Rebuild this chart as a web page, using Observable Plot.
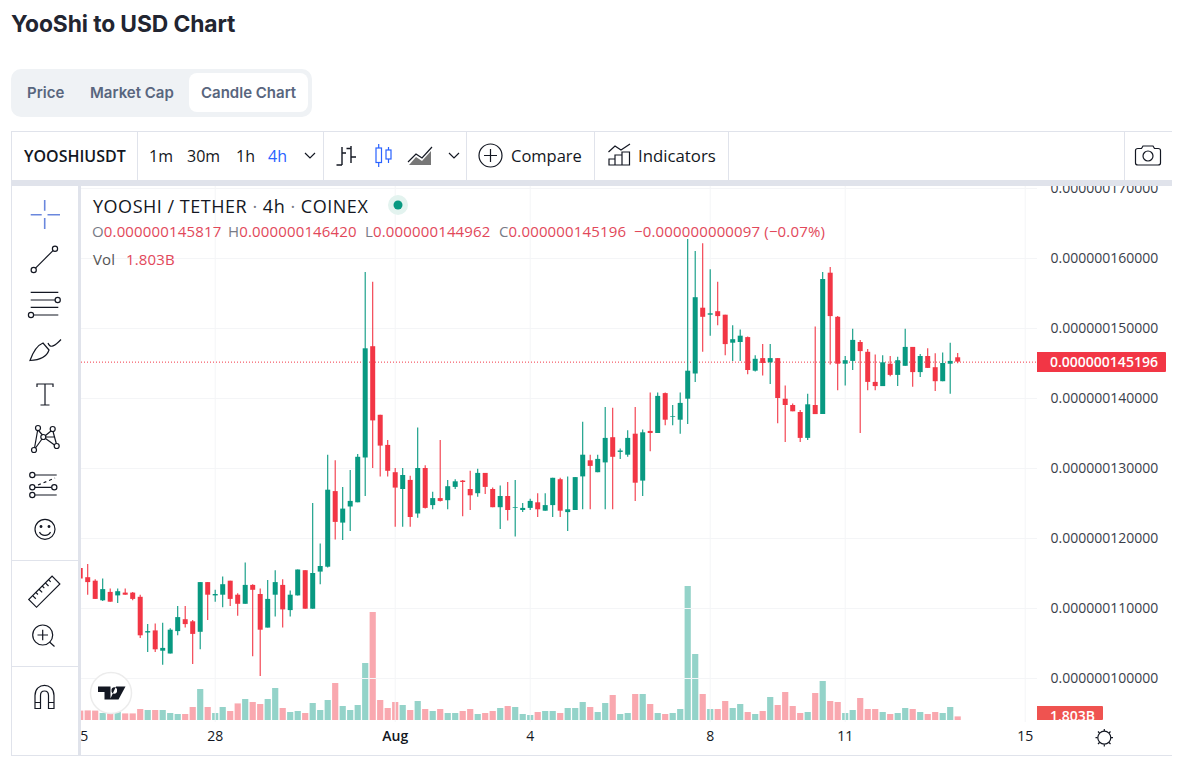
<!DOCTYPE html>
<html><head><meta charset="utf-8">
<script src="https://cdn.jsdelivr.net/npm/d3@7"></script>
<script src="https://cdn.jsdelivr.net/npm/@observablehq/plot@0.6"></script>
<style>
html,body{margin:0;padding:0;background:#fff;width:1195px;height:760px;overflow:hidden;font-family:"Open Sans",sans-serif;color:#131722}
.a{position:absolute;white-space:nowrap}
h1{position:absolute;left:11px;top:9px;margin:0;font:700 22.8px/30px Inter,sans-serif;color:#222531;letter-spacing:-.1px}
.tabs{position:absolute;left:11px;top:69px;width:301px;height:48px;background:#eff2f5;border-radius:10px}
.pill{position:absolute;left:178px;top:4px;width:119px;height:39px;background:#fff;border-radius:8px}
.tab{position:absolute;top:14px;font:600 15px/20px Inter,sans-serif;color:#58667e}
.tb{font-size:16px;line-height:22px;color:#131722}
.sep{position:absolute;background:#e0e3eb}
.legend{font-size:15px;line-height:20px;letter-spacing:.15px}
.lab{color:#787b86}.val{color:#e2485a}
svg.plot{position:absolute;left:81px;top:186px;overflow:hidden}
svg.ic{position:absolute;left:0;top:0;z-index:5;pointer-events:none}
</style></head><body>
<h1>YooShi to USD Chart</h1>
<div class="tabs"><div class="pill"></div>
<div class="tab" style="left:16px">Price</div><div class="tab" style="left:79px">Market Cap</div><div class="tab" style="left:190px">Candle Chart</div></div>

<div class="sep" style="left:11px;top:131px;width:1161px;height:1px"></div>
<div class="sep" style="left:11px;top:131px;width:1px;height:625px"></div>
<div class="sep" style="left:12px;top:180px;width:1160px;height:6px"></div>
<div class="sep" style="left:78px;top:186px;width:3px;height:570px"></div>
<div class="sep" style="left:11px;top:755px;width:1161px;height:1px"></div>
<div class="sep" style="left:12px;top:560px;width:66px;height:1px"></div>
<div class="sep" style="left:12px;top:666px;width:66px;height:1px"></div>
<div class="sep" style="left:137px;top:132px;width:1px;height:48px"></div>
<div class="sep" style="left:323px;top:132px;width:1px;height:48px"></div>
<div class="sep" style="left:466px;top:132px;width:1px;height:48px"></div>
<div class="sep" style="left:594px;top:132px;width:1px;height:48px"></div>
<div class="sep" style="left:728px;top:132px;width:1px;height:48px"></div>
<div class="sep" style="left:1124px;top:132px;width:1px;height:48px"></div>

<div class="a tb" style="left:24px;top:145px;font-weight:600">YOOSHIUSDT</div>
<div class="a tb" style="left:149px;top:145px">1m</div>
<div class="a tb" style="left:187px;top:145px">30m</div>
<div class="a tb" style="left:236px;top:145px">1h</div>
<div class="a tb" style="left:268px;top:145px;color:#2962ff;font-weight:500">4h</div>
<div class="a tb" style="left:511px;top:145px;font-size:16.5px">Compare</div>
<div class="a tb" style="left:638px;top:145px;font-size:16.8px">Indicators</div>

<div id="charts"></div>

<div class="a" style="left:93px;top:193px;font-size:18px;line-height:26px;z-index:3;letter-spacing:.52px">YOOSHI / TETHER <span style="color:#787b86">·</span> 4h <span style="color:#787b86">·</span> COINEX</div>
<div class="a legend" style="left:92px;top:220.500px;z-index:3"><span class="lab">O</span><span class="val">0.000000145817</span></div>
<div class="a legend" style="left:228px;top:220.500px;z-index:3"><span class="lab">H</span><span class="val">0.000000146420</span></div>
<div class="a legend" style="left:365px;top:220.500px;z-index:3"><span class="lab">L</span><span class="val">0.000000144962</span></div>
<div class="a legend" style="left:499px;top:220.500px;z-index:3"><span class="lab">C</span><span class="val">0.000000145196</span></div>
<div class="a legend val" style="left:634px;top:220.500px;z-index:3">−0.000000000097 (−0.07%)</div>
<div class="a legend" style="left:93px;top:249px;z-index:3;color:#555">Vol</div>
<div class="a legend val" style="left:126px;top:249px;z-index:3">1.803B</div>

<div id="tags"></div>

<svg class="ic" width="1195" height="760" fill="none" stroke="#131722" stroke-width="1.2">
<!-- left tools -->
<g stroke="#6a87dd" stroke-width="1.6"><path d="M30.7 214.7H41.7M47.5 214.7H60M44.7 200V210.7M44.7 218V229"/></g>
<path d="M35.5 268.2L53 250.6"/><circle cx="55" cy="248.7" r="2.6"/><circle cx="33.7" cy="270" r="2.6"/>
<path d="M30.7 292.3H58.3M30.7 300H55M30.7 307.3H58.3M34 315H58.3"/><circle cx="57.7" cy="300" r="2.6"/><circle cx="31" cy="315" r="2.6"/>
<path d="M30 360.5C33 352 38 345 43 343L49 350C47 356 40 360 30 360.5ZM48 343C50 349 55 346 61 339.5"/>
<path d="M37 387V384H53V387M45 384V405M40.5 405H49.5"/>
<g><circle cx="38" cy="428" r="2.5"/><circle cx="52.7" cy="429" r="2.5"/><circle cx="43.3" cy="437" r="2.5"/><circle cx="34" cy="450" r="2.5"/><circle cx="56.7" cy="446" r="2.5"/><path d="M38.5 430.5L42.5 435M45.5 435.5L51 431M34.6 447.5L37.6 430.5M35.5 448L42 439M45.5 438.5L54.5 445M53 431.5L56.3 443.5M45.5 437H54"/></g>
<path d="M35 475H56.7M35 487.3H51.6M35 495H56.7"/><circle cx="32.3" cy="475" r="2.6"/><circle cx="32.3" cy="487.3" r="2.6"/><circle cx="54.3" cy="487.3" r="2.6"/><circle cx="32.3" cy="495" r="2.6"/><path d="M38 485L55 478" stroke-dasharray="3 3"/>
<circle cx="45" cy="529.3" r="10"/><circle cx="41" cy="526.5" r=".9" fill="#131722"/><circle cx="49" cy="526.5" r=".9" fill="#131722"/><path d="M39.5 532C41.5 536.5 48.5 536.5 50.5 532"/>
<g transform="translate(44.3 591.7) rotate(-45)"><rect x="-16.5" y="-5.5" width="33" height="11"/><path d="M-11 -5.5V-1M-6.5 -5.5V-2.5M-2 -5.5V-1M2.5 -5.5V-2.5M7 -5.5V-1M11.5 -5.5V-2.5"/></g>
<circle cx="42.7" cy="635" r="10"/><path d="M37.5 635H48M42.7 629.7V640.3M49.5 642L54.5 646.5"/>
<path d="M35 708.5V695.5C35 682 54 682 54 695.5V708.5H48.5V695.5C48.5 689.5 40.5 689.5 40.5 695.5V708.5ZM35 702.5H40.5M48.5 702.5H54"/>
<!-- top toolbar -->
<path d="M342 147V165M336.5 165H342M342 153H346M351 146V163M346.5 148.5H351M351 157H356" stroke-width="1.4"/>
<g stroke="#2962ff"><rect x="376" y="148" width="5.5" height="14.5"/><path d="M378.7 144V148M378.7 162.500V167"/><rect x="386" y="150" width="5" height="9"/><path d="M388.500 147V150M388.500 159V163"/></g>
<path d="M408 162L416 154L422 158L432 147" stroke-width="1.2"/>
<path d="M409 165L416 157L422 161L431 151V165Z" fill="#777" stroke="none"/>
<path d="M305 153L310 158L315 153M449 153L454 158L459 153"/>
<circle cx="490.5" cy="155.500" r="11.500"/><path d="M484 155.500H497M490.500 149V162"/>
<path d="M608.500 152L615 146L621 150L630 144M609 165V159H615V165ZM615 165V155H622V165M622 165V152H629.500V165H609"/>
<path d="M1135.500 150.500C1135.500 149 1136 148.500 1138 148.500H1141.500L1143 146H1153L1154.500 148.500H1158C1160 148.500 1160.500 149 1160.500 150.500V163C1160.500 164.500 1160 165 1158 165H1138C1136 165 1135.500 164.500 1135.500 163Z"/><circle cx="1148" cy="156" r="5"/>
<circle cx="1104.300" cy="737.700" r="6.500"/><path d="M1104.300 729V731M1104.300 744.500V746.500M1095.500 737.700H1097.500M1111 737.700H1113M1098 731.500L1099.500 733M1109 742.500L1110.500 744M1098 744L1099.500 742.500M1109 733L1110.500 731.500"/>
<!-- dot and logo -->
<circle cx="398" cy="205" r="10" fill="#e3f3ef" stroke="none"/><circle cx="398" cy="205" r="4.500" fill="#089981" stroke="none"/>
<circle cx="111" cy="693" r="20.500" fill="#fff" stroke="#ececec" stroke-width="1.500"/>
<path d="M98 686.500H110.500V699.500H104.500V692H98ZM116 686.500H125.500L118.500 699.500H110Z M111.500 690.500a2.800 2.800 0 1 0 5.500 0a2.800 2.800 0 1 0 -5.500 0Z" fill="#131722" stroke="none"/>
</svg>

<script>
const highs = [115.7,116.3,114.1,114.2,112.8,112.8,112.8,112.3,111.9,107.7,107.8,107.9,107.1,110.3,110.3,108.3,113.7,113.7,
112.6,114.5,113.9,112.1,116.5,113.4,112.8,114.0,115.4,114.1,112.5,115.5,115.4,125.0,119.2,131.9,131.1,127.3,129.7,132.0,
158.0,156.6,137.6,134.0,130.0,130.0,128.9,135.8,130.4,126.6,134.0,128.3,128.4,128.3,129.6,129.9,129.3,127.2,127.5,128.0,
128.3,125.0,125.6,126.4,126.4,128.6,128.6,128.8,128.7,136.6,131.9,131.9,138.7,138.6,132.8,135.4,138.7,135.5,140.8,140.8,
140.8,139.0,140.8,162.7,161.0,162.1,158.4,156.6,151.9,150.4,149.8,148.8,146.1,147.7,147.7,145.7,141.8,139.2,138.3,140.6,
150.2,158.0,158.7,151.7,146.0,149.9,148.3,147.0,146.2,146.1,146.0,145.9,149.9,147.3,146.3,147.1,146.4,146.5,147.9,146.42];
const lows = [114.2,111.9,111.3,111.0,110.9,110.7,111.9,111.1,105.7,103.7,103.7,101.9,103.5,106.1,107.2,102.0,104.1,108.3,
110.9,110.1,110.3,108.9,110.6,103.1,100.3,107.2,108.8,107.2,108.8,111.8,109.9,109.9,113.4,115.8,119.8,119.7,121.0,125.1,
126.0,130.0,128.8,128.8,121.6,121.6,121.6,122.9,124.2,124.1,125.2,124.1,127.0,123.1,124.0,125.9,126.3,124.4,121.3,122.5,
120.2,123.7,124.0,123.0,123.9,123.0,123.0,121.0,124.0,124.1,124.1,129.4,124.1,124.1,131.3,131.6,125.3,126.0,132.4,135.0,
136.1,136.1,134.9,136.3,142.3,146.6,148.9,150.4,146.1,145.3,145.3,143.4,143.8,143.2,142.0,136.4,133.7,138.1,133.7,134.0,
137.7,137.7,144.8,141.1,141.8,144.0,135.0,141.1,141.1,141.7,143.1,141.7,144.6,141.6,143.0,144.3,141.0,142.4,140.6,144.962];
const opens = [115.7,114.4,113.9,111.1,112.3,111.8,112.2,112.2,111.6,106.5,106.8,103.9,103.5,106.7,108.4,108.1,106.6,113.7,
111.8,111.9,113.9,111.9,110.6,113.3,112.0,107.2,111.9,113.3,109.7,111.8,115.4,109.9,115.2,115.9,126.7,122.2,124.5,125.1,
131.5,147.4,137.6,133.3,129.4,127.0,128.3,123.5,130.0,124.7,125.7,125.4,127.3,128.2,127.0,126.4,129.3,127.0,124.4,126.0,
124.3,124.0,124.3,125.1,123.9,124.7,128.4,123.7,124.0,128.8,131.1,129.4,130.8,134.4,132.3,131.9,134.9,128.2,135.3,135.0,
140.7,137.3,136.9,139.9,143.5,152.9,151.9,152.4,151.9,147.9,148.0,148.7,143.9,145.7,145.1,145.7,139.9,139.0,138.0,134.3,
139.0,137.7,157.9,151.6,144.9,145.3,148.0,146.6,142.3,141.7,144.9,143.3,144.6,147.3,143.7,146.0,144.4,142.4,144.9,145.817];
const closes = [114.2,113.7,111.3,112.7,110.9,112.4,111.9,111.3,106.1,106.7,104.1,104.3,106.9,108.7,107.7,106.3,113.7,111.9,
112.0,113.4,111.3,110.6,113.3,112.6,106.9,111.3,113.7,109.8,111.9,115.5,109.9,115.0,116.0,126.9,122.3,124.2,125.3,131.6,
147.1,136.8,133.2,129.6,127.2,129.0,123.0,130.0,124.3,125.7,125.3,127.4,128.1,128.0,126.1,129.3,127.3,124.4,126.0,124.0,
124.4,124.3,125.3,124.1,124.7,128.6,123.9,124.1,128.7,131.9,130.3,131.3,134.3,131.6,132.5,134.3,127.9,135.1,135.0,140.3,
136.9,137.4,139.3,143.9,154.4,151.6,152.1,151.7,147.7,148.4,148.9,144.0,145.6,145.0,145.7,140.0,139.0,138.1,134.3,139.1,
137.7,157.0,151.7,144.9,145.4,148.3,146.7,142.3,141.7,145.1,143.3,145.4,147.3,143.7,146.0,144.3,142.4,145.0,145.3,145.196];
const volumes = [4.7,4.8,4.7,3.5,4,4,3.3,3.3,5.5,5,5,5,3.5,3,3,6.5,15.5,6.5,
3.5,6.5,4.5,8.3,10.5,9,8,10.5,16,6,4,4.5,3.5,8.5,5,10,18.5,7,5,7.5,
28.5,54,10,6,9,7.5,5,9.5,5.5,4.5,5.5,3.5,3.5,4.5,5.5,3,3.5,4.5,6,7,
6.5,3,2.5,4,4.5,4.5,3.5,6,6,9,6.5,4,8.5,12.5,3,3.5,13,13,8,3.5,
3,3.5,5.5,67,33,13,5.5,5.5,9.5,6,8,4,3,4.5,11.5,7.5,14,7,3.5,4,
13.5,19.5,9.5,9,3.5,5,11,5.5,5.5,4,3,3.5,6,5.5,4,3,4,3.5,6.5,1.803];
const firstBar = -18;                      // four-hour bars counted from 28 Jul 00:00
const dateTicks = [-18,0,24,42,66,84,108];
const dateLabels = ["25","28","Aug","4","8","11","15"];
const priceTicks = [100,110,120,130,140,150,160,170];
const lastPrice = 145.196, lastVolume = 1.803;
const UP = "#089981", DOWN = "#f23645";

const bars = opens.map((o,k)=>({i:firstBar+k,o,c:closes[k],h:highs[k],l:lows[k],v:volumes[k],dir:closes[k]>=o?"up":"down"}));
const xScale = {domain:[-17.827,109.64], range:[0,956]};
const W = 1091, H = 570;
const color = {domain:["up","down"], range:[UP,DOWN]};
const common = {width:W,height:H,marginLeft:0,marginRight:135,marginTop:0,marginBottom:34,color,
  style:{background:"transparent",fontFamily:'"Open Sans",sans-serif',fontSize:"14px",color:"#3a3e4a"}};
const fmtPrice = d=>(d*1e-9).toFixed(12);

const price = Plot.plot({...common,
  x:xScale,
  y:{domain:[93.714,170.286],range:[536,0]},
  marks:[
    Plot.gridX(dateTicks,{x:d=>d,stroke:"#f4f5f7",strokeOpacity:1}),
    Plot.gridY(priceTicks,{y:d=>d,stroke:"#f4f5f7",strokeOpacity:1}),
    Plot.axisY({anchor:"right",ticks:priceTicks,tickFormat:fmtPrice,tickSize:0,tickPadding:13,label:null,fill:"#3a3e4a",fontSize:14}),
    Plot.axisX({ticks:dateTicks.filter(d=>d!==24),tickFormat:d=>dateLabels[dateTicks.indexOf(d)],tickSize:0,tickPadding:9,label:null,fill:"#131722",fontSize:14}),
    Plot.axisX({ticks:[24],tickFormat:d=>dateLabels[dateTicks.indexOf(d)],tickSize:0,tickPadding:9,label:null,fill:"#131722",fontSize:14,fontWeight:600}),
    Plot.ruleY([lastPrice],{stroke:DOWN,strokeWidth:1,strokeDasharray:"1 2"}),
    Plot.ruleX(bars,{x:"i",y1:"l",y2:"h",stroke:"dir",strokeWidth:1.1,clip:true}),
    Plot.ruleX(bars,{x:"i",y1:"o",y2:"c",stroke:"dir",strokeWidth:5,clip:true})
  ]});
const volume = Plot.plot({...common,
  x:{...xScale,axis:null},
  y:{domain:[0,67],range:[534,400],axis:null},
  marks:[
    Plot.ruleX(bars,{x:"i",y1:0,y2:"v",stroke:"dir",strokeOpacity:.43,strokeWidth:6.2,clip:true})
  ]});
for (const s of [price,volume]) { s.classList.add("plot"); }
const host = document.getElementById("charts");
host.append(volume,price);

const tags = document.getElementById("tags");
function tag(y,text,w,bg,clipBottom){
  const wrap=document.createElement("div");
  wrap.className="a";
  const top=186+y-10;
  wrap.style.cssText=`left:1037px;top:${top}px;width:${w}px;height:${Math.min(20.5,clipBottom-top)}px;background:${bg};color:#fff;overflow:hidden;border-radius:0 1px 1px 0;font-size:14px;font-weight:600;line-height:20.5px;padding-left:0;z-index:4`;
  wrap.innerHTML=`<span style="margin-left:13px">${text}</span>`;
  tags.append(wrap);
}
tag(price.scale("y").apply(lastPrice),fmtPrice(lastPrice),129,DOWN,760);
tag(volume.scale("y").apply(lastVolume),"1.803B",66,"#ef5350",720.5);
</script>
</body></html>
